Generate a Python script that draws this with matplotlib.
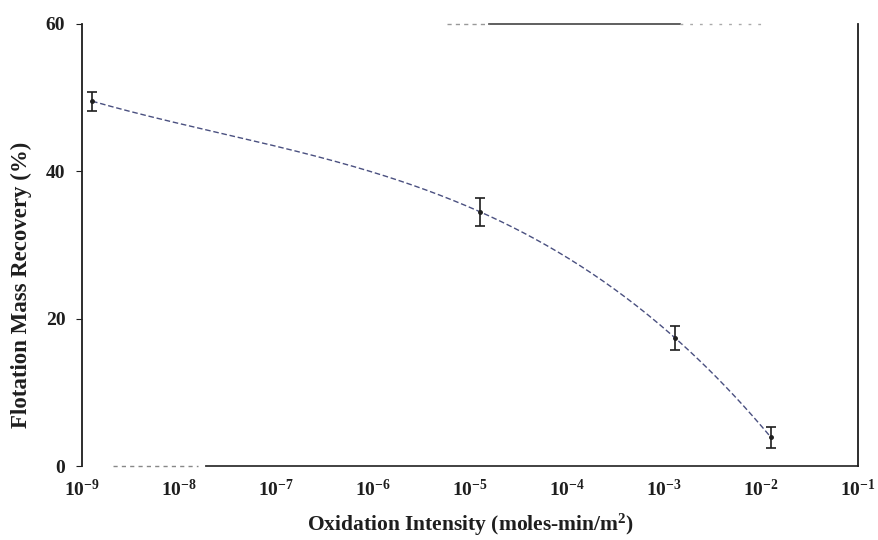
import numpy as np
import matplotlib
matplotlib.use("Agg")
import matplotlib.pyplot as plt
from matplotlib.ticker import FixedLocator, FuncFormatter

# ── Data ──────────────────────────────────────────────────────────────────────
oxidation = [1.27e-9, 1.26e-5, 1.29e-3, 1.26e-2]   # moles-min/m^2
recovery  = [49.5, 34.5, 17.4, 3.9]                 # %
err       = [1.3, 1.9, 1.6, 1.4]

x_ticks = [1e-9, 1e-8, 1e-7, 1e-6, 1e-5, 1e-4, 1e-3, 1e-2, 1e-1]
y_ticks = [0, 20, 40, 60]

plt.rcParams["font.family"] = ["Liberation Serif", "DejaVu Serif"]
plt.rcParams["font.weight"] = "bold"
plt.rcParams["mathtext.fontset"] = "custom"
plt.rcParams["mathtext.rm"] = "Liberation Serif:bold"
plt.rcParams["mathtext.bf"] = "Liberation Serif:bold"
plt.rcParams["mathtext.it"] = "Liberation Serif:bold"

INK = "#1e1e1e"
LINE = "#4a5080"

fig = plt.figure(figsize=(8.79, 5.40), dpi=100)
fig.patch.set_facecolor("white")
ax = fig.add_axes([0.0933, 0.137, 0.883, 0.819])
ax.set_xscale("log")
ax.set_xlim(1e-9, 1e-1)
ax.set_ylim(0, 60)

# smooth trend through the points (cubic in log-x)
lx = np.log10(oxidation)
coef = np.polyfit(lx, recovery, 3)
xs = np.linspace(lx[0], lx[-1], 300)
ax.plot(10**xs, np.polyval(coef, xs), ls=(0, (4, 2)), lw=1.0, color=LINE, zorder=2)

ax.errorbar(oxidation, recovery, yerr=err, fmt="o", ms=2.5, color=INK,
            ecolor=INK, elinewidth=1.2, capsize=3.5, capthick=1.2, zorder=3)

# axes frame: scanned original has faded top/bottom edges
for side in ("top", "bottom"):
    ax.spines[side].set_visible(False)
ax.spines["left"].set_color(INK)
ax.spines["right"].set_color(INK)
ax.spines["left"].set_linewidth(1.3)
ax.spines["right"].set_linewidth(1.3)
ax.plot([0.16, 1.0], [0, 0], transform=ax.transAxes, color="#333333", lw=1.3, clip_on=False)
ax.plot([0.04, 0.15], [0, 0], transform=ax.transAxes, color="#888888", lw=1.0,
        ls=(0, (3, 3)), clip_on=False)
ax.plot([0.525, 0.77], [1, 1], transform=ax.transAxes, color="#444444", lw=1.2, clip_on=False)
ax.plot([0.47, 0.525], [1, 1], transform=ax.transAxes, color="#999999", lw=1.0,
        ls=(0, (3, 3)), clip_on=False)
ax.plot([0.77, 0.88], [1, 1], transform=ax.transAxes, color="#aaaaaa", lw=1.0,
        ls=(0, (2, 5)), clip_on=False)

ax.xaxis.set_major_locator(FixedLocator(x_ticks))
ax.xaxis.set_minor_locator(FixedLocator([]))
ax.xaxis.set_major_formatter(FuncFormatter(
    lambda v, p: r"$\mathrm{10^{%d}}$" % int(round(np.log10(v)))))
ax.set_yticks(y_ticks)
ax.tick_params(axis="x", length=0, pad=9, labelsize=14, colors=INK)
ax.tick_params(axis="y", length=4, width=0.8, pad=8, labelsize=14, colors=INK)
for t in ax.get_yticklabels():
    t.set_fontweight("bold")

ax.set_xlabel(r"Oxidation Intensity (moles-min/m$^{2}$)", fontsize=15.5,
              fontweight="bold", color=INK)
ax.xaxis.set_label_coords(0.5, -0.103)
ax.set_ylabel("Flotation Mass Recovery (%)", fontsize=16.5,
              fontweight="bold", color=INK)
ax.yaxis.set_label_coords(-0.064, 0.41)

fig.savefig("out.png", dpi=100, facecolor="white")
